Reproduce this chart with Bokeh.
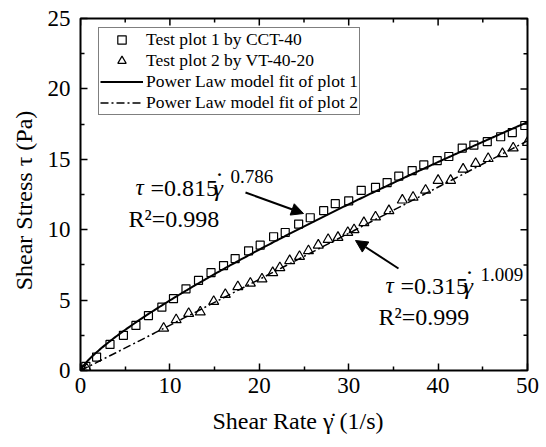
import numpy as np
from bokeh.plotting import figure
from bokeh.models import (Range1d, FixedTicker, Legend, LegendItem, Label,
                          Arrow, NormalHead)
from bokeh.embed import file_html
from bokeh.resources import INLINE

# ---- data ----
sq_x = [0.0, 0.6, 1.8, 3.3, 4.8, 6.2, 7.6, 9.1, 10.4, 11.8, 13.2, 14.6, 16.0, 17.3,
        18.8, 20.1, 21.6, 22.9, 24.4, 25.7, 27.2, 28.5, 30.0, 31.4, 33.0, 34.3,
        35.6, 37.1, 38.4, 39.9, 41.2, 42.7, 44.0, 45.5, 47.0, 48.3, 49.7]
sq_y = [0.05, 0.3, 0.95, 1.85, 2.5, 3.2, 3.9, 4.5, 5.1, 5.8, 6.4, 6.95, 7.45, 7.95,
        8.5, 8.9, 9.5, 9.8, 10.4, 10.85, 11.35, 11.85, 12.05, 12.8, 13.0, 13.35,
        13.8, 14.2, 14.6, 14.9, 15.2, 15.8, 16.0, 16.25, 16.6, 16.9, 17.4]
tri_x = [0.0, 0.7, 9.3, 10.7, 12.1, 13.4, 14.9, 16.2, 17.6, 19.0, 20.3, 21.5, 22.3,
         23.4, 24.5, 25.5, 26.6, 27.7, 28.8, 29.9, 30.6, 31.7, 33.0, 34.5, 36.0,
         37.2, 38.6, 40.0, 41.4, 42.8, 44.2, 45.6, 47.2, 48.4, 50.0]
tri_y = [0.0, 0.1, 3.0, 3.6, 4.05, 4.15, 4.9, 5.4, 5.95, 6.2, 6.5, 6.95, 7.3,
         7.8, 8.1, 8.5, 8.9, 9.3, 9.45, 9.8, 10.0, 10.5, 10.9, 11.35, 12.1,
         12.3, 12.8, 13.5, 13.5, 14.3, 14.7, 15.05, 15.4, 15.8, 16.2]

# power-law fit coefficients (shown on the chart)
fit1_k, fit1_n = 0.815, 0.786
fit2_k, fit2_n = 0.315, 1.009

x_ticks = [0, 10, 20, 30, 40, 50]
x_minor = [5, 15, 25, 35, 45]
y_ticks = [0, 5, 10, 15, 20, 25]
y_minor = [2.5, 7.5, 12.5, 17.5, 22.5]

x_title = "Shear Rate  γ̇  (1/s)"
y_title = "Shear Stress  τ  (Pa)"
legend_labels = ["Test plot 1 by CCT-40", "Test plot 2 by VT-40-20",
                 "Power Law model fit of plot 1", "Power Law model fit of plot 2"]
eq_texts = ["=0.815", "=0.315"]
eq_exps = ["0.786", "1.009"]
r2_texts = ["R²=0.998", "R²=0.999"]

FONT = "Liberation Serif"

# frame geometry (pixels) used to place annotations
W, H = 546, 447
FL, FR, FT, FB = 80, 527, 18, 370
X0, X1, Y0, Y1 = 0, 50, 0, 25


def dx(px):
    return X0 + (px - FL) * (X1 - X0) / (FR - FL)


def dy(py):
    return Y0 + (FB - py) * (Y1 - Y0) / (FB - FT)


p = figure(width=W, height=H, output_backend="svg", toolbar_location=None,
           x_range=Range1d(X0, X1), y_range=Range1d(Y0, Y1),
           min_border_left=FL, min_border_right=W - FR, min_border_top=FT,
           min_border_bottom=H - FB)
p.background_fill_color = "white"
p.border_fill_color = "white"
p.grid.visible = False
p.outline_line_color = "black"
p.outline_line_width = 2

xf = np.linspace(X0, X1, 300)
l1 = p.line(xf, fit1_k * xf ** fit1_n, line_color="black", line_width=2)
l2 = p.line(xf, fit2_k * xf ** fit2_n, line_color="black", line_width=1.5,
            line_dash="8 3 2 3")
s1 = p.scatter(sq_x, sq_y, marker="square", size=8, line_color="black",
               line_width=1.2, fill_color=None)
s2 = p.scatter(tri_x, tri_y, marker="triangle", size=10, line_color="black",
               line_width=1.2, fill_color=None)

for ax, ticks, minor in ((p.xaxis[0], x_ticks, x_minor), (p.yaxis[0], y_ticks, y_minor)):
    ax.ticker = FixedTicker(ticks=ticks, minor_ticks=minor)
    ax.axis_line_color = None
    ax.major_tick_in = 7
    ax.major_tick_out = 0
    ax.minor_tick_in = 4
    ax.minor_tick_out = 0
    ax.major_tick_line_width = 1.5
    ax.minor_tick_line_width = 1.5
    ax.major_tick_line_color = "black"
    ax.minor_tick_line_color = "black"
    ax.major_label_text_font = FONT
    ax.major_label_text_font_size = "23px"
    ax.major_label_text_color = "black"
    ax.major_label_text_font_style = "normal"
    ax.axis_label_text_font = FONT
    ax.axis_label_text_font_size = "24px"
    ax.axis_label_text_font_style = "normal"
    ax.axis_label_text_color = "black"
p.xaxis[0].axis_label = x_title
p.yaxis[0].axis_label = y_title
p.xaxis[0].major_label_standoff = 7
p.yaxis[0].major_label_standoff = 10
p.xaxis[0].axis_label_standoff = 12
p.yaxis[0].axis_label_standoff = 8

# mirrored inward ticks on top and right edges (half of each dash is clipped by the frame)
p.scatter(x_ticks, [Y1] * len(x_ticks), marker="dash", size=14, angle=np.pi / 2,
          line_color="black", line_width=1.5)
p.scatter(x_minor, [Y1] * len(x_minor), marker="dash", size=8, angle=np.pi / 2,
          line_color="black", line_width=1.5)
p.scatter([X1] * len(y_ticks), y_ticks, marker="dash", size=14,
          line_color="black", line_width=1.5)
p.scatter([X1] * len(y_minor), y_minor, marker="dash", size=8,
          line_color="black", line_width=1.5)

# legend
legend = Legend(items=[LegendItem(label=legend_labels[0], renderers=[s1]),
                       LegendItem(label=legend_labels[1], renderers=[s2]),
                       LegendItem(label=legend_labels[2], renderers=[l1]),
                       LegendItem(label=legend_labels[3], renderers=[l2])],
                location=(18, 255))
legend.label_text_font = FONT
legend.label_text_font_size = "17.5px"
legend.label_text_color = "black"
legend.glyph_width = 43
legend.glyph_height = 21
legend.label_height = 21
legend.spacing = 0
legend.padding = 1
legend.margin = 0
legend.label_standoff = 3
legend.border_line_color = "black"
legend.border_line_width = 1.5
legend.background_fill_alpha = 1
p.add_layout(legend)


def lbl(px, py, text, size, style="normal", align="left"):
    p.add_layout(Label(x=dx(px), y=dy(py), text=text, text_font=FONT,
                       text_font_size=f"{size}px", text_font_style=style,
                       text_color="black", text_align=align,
                       text_baseline="middle"))


# equations
for off_x, off_y, eq, ex, r2 in ((0, 0, eq_texts[0], eq_exps[0], r2_texts[0]),
                                 (250, 98, eq_texts[1], eq_exps[1], r2_texts[1])):
    lbl(135 + off_x, 187 + off_y, "τ", 23, "italic")
    lbl(150 + off_x, 187 + off_y, eq, 24)
    lbl(213 + off_x, 187 + off_y, "γ", 24, "italic")
    lbl(219 + off_x, 173 + off_y, "·", 24, align="center")
    lbl(230 + off_x, 176 + off_y, ex, 19)
    lbl(128 + off_x, 218 + off_y, r2, 24)

p.add_layout(Arrow(end=NormalHead(size=12, fill_color="black", line_color="black"),
                   x_start=dx(245), y_start=dy(192), x_end=dx(303), y_end=dy(213),
                   line_width=2, line_color="black"))
p.add_layout(Arrow(end=NormalHead(size=12, fill_color="black", line_color="black"),
                   x_start=dx(398), y_start=dy(268), x_end=dx(355), y_end=dy(240),
                   line_width=2, line_color="black"))

open("out.html", "w").write(file_html(p, INLINE))
